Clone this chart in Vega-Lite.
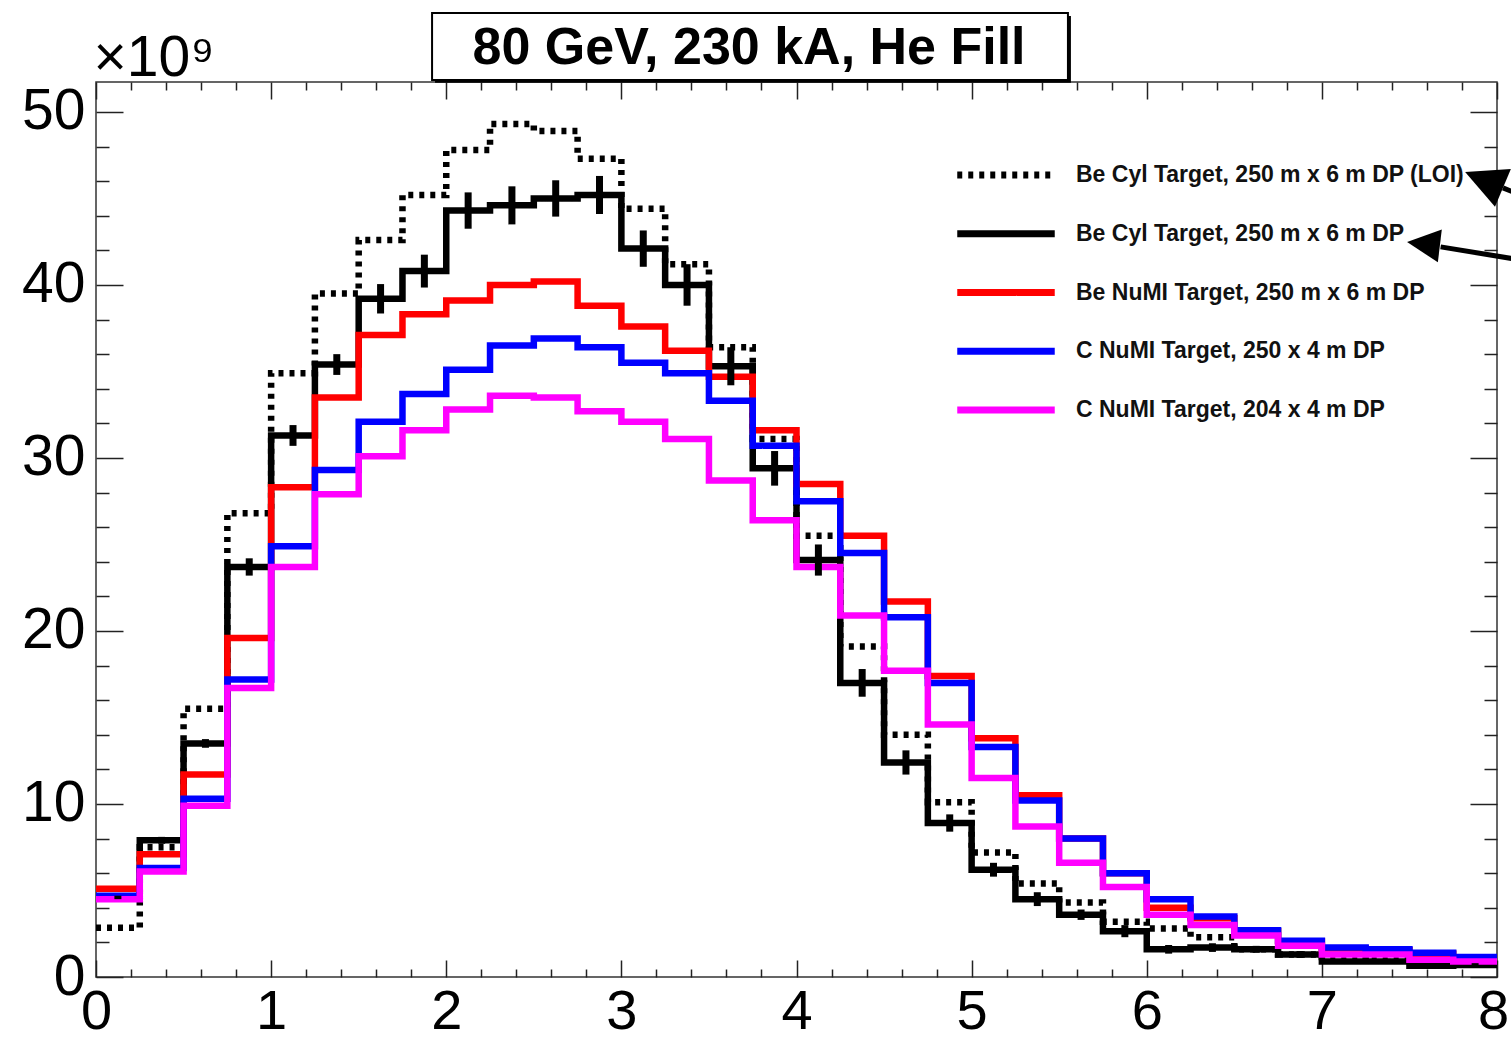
{
  "$schema": "https://vega.github.io/schema/vega-lite/v6.json",
  "width": 1401,
  "height": 895,
  "autosize": {"type": "none"},
  "padding": {"left": 96, "top": 82, "right": 14, "bottom": 63},
  "background": "white",
  "config": {"view": {"stroke": "#333333", "strokeWidth": 1.5}, "font": "Liberation Sans"},
  "datasets": {
    "hist": [
      {"s":"Be Cyl Target, 250 m x 6 m DP (LOI)","x0":0,"x1":0.25,"v":2.85},
      {"s":"Be Cyl Target, 250 m x 6 m DP (LOI)","x0":0.25,"x1":0.5,"v":7.5},
      {"s":"Be Cyl Target, 250 m x 6 m DP (LOI)","x0":0.5,"x1":0.75,"v":15.5},
      {"s":"Be Cyl Target, 250 m x 6 m DP (LOI)","x0":0.75,"x1":1,"v":26.8},
      {"s":"Be Cyl Target, 250 m x 6 m DP (LOI)","x0":1,"x1":1.25,"v":34.9},
      {"s":"Be Cyl Target, 250 m x 6 m DP (LOI)","x0":1.25,"x1":1.5,"v":39.5},
      {"s":"Be Cyl Target, 250 m x 6 m DP (LOI)","x0":1.5,"x1":1.75,"v":42.6},
      {"s":"Be Cyl Target, 250 m x 6 m DP (LOI)","x0":1.75,"x1":2,"v":45.2},
      {"s":"Be Cyl Target, 250 m x 6 m DP (LOI)","x0":2,"x1":2.25,"v":47.8},
      {"s":"Be Cyl Target, 250 m x 6 m DP (LOI)","x0":2.25,"x1":2.5,"v":49.3},
      {"s":"Be Cyl Target, 250 m x 6 m DP (LOI)","x0":2.5,"x1":2.75,"v":48.9},
      {"s":"Be Cyl Target, 250 m x 6 m DP (LOI)","x0":2.75,"x1":3,"v":47.3},
      {"s":"Be Cyl Target, 250 m x 6 m DP (LOI)","x0":3,"x1":3.25,"v":44.4},
      {"s":"Be Cyl Target, 250 m x 6 m DP (LOI)","x0":3.25,"x1":3.5,"v":41.2},
      {"s":"Be Cyl Target, 250 m x 6 m DP (LOI)","x0":3.5,"x1":3.75,"v":36.4},
      {"s":"Be Cyl Target, 250 m x 6 m DP (LOI)","x0":3.75,"x1":4,"v":31.1},
      {"s":"Be Cyl Target, 250 m x 6 m DP (LOI)","x0":4,"x1":4.25,"v":25.5},
      {"s":"Be Cyl Target, 250 m x 6 m DP (LOI)","x0":4.25,"x1":4.5,"v":19.1},
      {"s":"Be Cyl Target, 250 m x 6 m DP (LOI)","x0":4.5,"x1":4.75,"v":14.0},
      {"s":"Be Cyl Target, 250 m x 6 m DP (LOI)","x0":4.75,"x1":5,"v":10.1},
      {"s":"Be Cyl Target, 250 m x 6 m DP (LOI)","x0":5,"x1":5.25,"v":7.2},
      {"s":"Be Cyl Target, 250 m x 6 m DP (LOI)","x0":5.25,"x1":5.5,"v":5.4},
      {"s":"Be Cyl Target, 250 m x 6 m DP (LOI)","x0":5.5,"x1":5.75,"v":4.3},
      {"s":"Be Cyl Target, 250 m x 6 m DP (LOI)","x0":5.75,"x1":6,"v":3.2},
      {"s":"Be Cyl Target, 250 m x 6 m DP (LOI)","x0":6,"x1":6.25,"v":2.8},
      {"s":"Be Cyl Target, 250 m x 6 m DP (LOI)","x0":6.25,"x1":6.5,"v":2.3},
      {"s":"Be Cyl Target, 250 m x 6 m DP (LOI)","x0":6.5,"x1":6.75,"v":1.6},
      {"s":"Be Cyl Target, 250 m x 6 m DP (LOI)","x0":6.75,"x1":7,"v":1.3},
      {"s":"Be Cyl Target, 250 m x 6 m DP (LOI)","x0":7,"x1":7.25,"v":1.15},
      {"s":"Be Cyl Target, 250 m x 6 m DP (LOI)","x0":7.25,"x1":7.5,"v":1.0},
      {"s":"Be Cyl Target, 250 m x 6 m DP (LOI)","x0":7.5,"x1":7.75,"v":0.85},
      {"s":"Be Cyl Target, 250 m x 6 m DP (LOI)","x0":7.75,"x1":8,"v":0.75},
      {"s":"Be Cyl Target, 250 m x 6 m DP","x0":0,"x1":0.25,"v":4.6},
      {"s":"Be Cyl Target, 250 m x 6 m DP","x0":0.25,"x1":0.5,"v":7.9},
      {"s":"Be Cyl Target, 250 m x 6 m DP","x0":0.5,"x1":0.75,"v":13.5},
      {"s":"Be Cyl Target, 250 m x 6 m DP","x0":0.75,"x1":1,"v":23.7},
      {"s":"Be Cyl Target, 250 m x 6 m DP","x0":1,"x1":1.25,"v":31.3},
      {"s":"Be Cyl Target, 250 m x 6 m DP","x0":1.25,"x1":1.5,"v":35.4},
      {"s":"Be Cyl Target, 250 m x 6 m DP","x0":1.5,"x1":1.75,"v":39.2},
      {"s":"Be Cyl Target, 250 m x 6 m DP","x0":1.75,"x1":2,"v":40.8},
      {"s":"Be Cyl Target, 250 m x 6 m DP","x0":2,"x1":2.25,"v":44.3},
      {"s":"Be Cyl Target, 250 m x 6 m DP","x0":2.25,"x1":2.5,"v":44.6},
      {"s":"Be Cyl Target, 250 m x 6 m DP","x0":2.5,"x1":2.75,"v":45.0},
      {"s":"Be Cyl Target, 250 m x 6 m DP","x0":2.75,"x1":3,"v":45.2},
      {"s":"Be Cyl Target, 250 m x 6 m DP","x0":3,"x1":3.25,"v":42.1},
      {"s":"Be Cyl Target, 250 m x 6 m DP","x0":3.25,"x1":3.5,"v":40.0},
      {"s":"Be Cyl Target, 250 m x 6 m DP","x0":3.5,"x1":3.75,"v":35.3},
      {"s":"Be Cyl Target, 250 m x 6 m DP","x0":3.75,"x1":4,"v":29.4},
      {"s":"Be Cyl Target, 250 m x 6 m DP","x0":4,"x1":4.25,"v":24.1},
      {"s":"Be Cyl Target, 250 m x 6 m DP","x0":4.25,"x1":4.5,"v":17.0},
      {"s":"Be Cyl Target, 250 m x 6 m DP","x0":4.5,"x1":4.75,"v":12.4},
      {"s":"Be Cyl Target, 250 m x 6 m DP","x0":4.75,"x1":5,"v":8.9},
      {"s":"Be Cyl Target, 250 m x 6 m DP","x0":5,"x1":5.25,"v":6.2},
      {"s":"Be Cyl Target, 250 m x 6 m DP","x0":5.25,"x1":5.5,"v":4.5},
      {"s":"Be Cyl Target, 250 m x 6 m DP","x0":5.5,"x1":5.75,"v":3.6},
      {"s":"Be Cyl Target, 250 m x 6 m DP","x0":5.75,"x1":6,"v":2.65},
      {"s":"Be Cyl Target, 250 m x 6 m DP","x0":6,"x1":6.25,"v":1.6},
      {"s":"Be Cyl Target, 250 m x 6 m DP","x0":6.25,"x1":6.5,"v":1.7},
      {"s":"Be Cyl Target, 250 m x 6 m DP","x0":6.5,"x1":6.75,"v":1.6},
      {"s":"Be Cyl Target, 250 m x 6 m DP","x0":6.75,"x1":7,"v":1.3},
      {"s":"Be Cyl Target, 250 m x 6 m DP","x0":7,"x1":7.25,"v":0.9},
      {"s":"Be Cyl Target, 250 m x 6 m DP","x0":7.25,"x1":7.5,"v":0.9},
      {"s":"Be Cyl Target, 250 m x 6 m DP","x0":7.5,"x1":7.75,"v":0.65},
      {"s":"Be Cyl Target, 250 m x 6 m DP","x0":7.75,"x1":8,"v":0.7},
      {"s":"Be NuMI Target, 250 m x 6 m DP","x0":0,"x1":0.25,"v":5.1},
      {"s":"Be NuMI Target, 250 m x 6 m DP","x0":0.25,"x1":0.5,"v":7.1},
      {"s":"Be NuMI Target, 250 m x 6 m DP","x0":0.5,"x1":0.75,"v":11.7},
      {"s":"Be NuMI Target, 250 m x 6 m DP","x0":0.75,"x1":1,"v":19.6},
      {"s":"Be NuMI Target, 250 m x 6 m DP","x0":1,"x1":1.25,"v":28.3},
      {"s":"Be NuMI Target, 250 m x 6 m DP","x0":1.25,"x1":1.5,"v":33.5},
      {"s":"Be NuMI Target, 250 m x 6 m DP","x0":1.5,"x1":1.75,"v":37.1},
      {"s":"Be NuMI Target, 250 m x 6 m DP","x0":1.75,"x1":2,"v":38.3},
      {"s":"Be NuMI Target, 250 m x 6 m DP","x0":2,"x1":2.25,"v":39.1},
      {"s":"Be NuMI Target, 250 m x 6 m DP","x0":2.25,"x1":2.5,"v":40.0},
      {"s":"Be NuMI Target, 250 m x 6 m DP","x0":2.5,"x1":2.75,"v":40.2},
      {"s":"Be NuMI Target, 250 m x 6 m DP","x0":2.75,"x1":3,"v":38.8},
      {"s":"Be NuMI Target, 250 m x 6 m DP","x0":3,"x1":3.25,"v":37.6},
      {"s":"Be NuMI Target, 250 m x 6 m DP","x0":3.25,"x1":3.5,"v":36.2},
      {"s":"Be NuMI Target, 250 m x 6 m DP","x0":3.5,"x1":3.75,"v":34.7},
      {"s":"Be NuMI Target, 250 m x 6 m DP","x0":3.75,"x1":4,"v":31.6},
      {"s":"Be NuMI Target, 250 m x 6 m DP","x0":4,"x1":4.25,"v":28.5},
      {"s":"Be NuMI Target, 250 m x 6 m DP","x0":4.25,"x1":4.5,"v":25.5},
      {"s":"Be NuMI Target, 250 m x 6 m DP","x0":4.5,"x1":4.75,"v":21.7},
      {"s":"Be NuMI Target, 250 m x 6 m DP","x0":4.75,"x1":5,"v":17.4},
      {"s":"Be NuMI Target, 250 m x 6 m DP","x0":5,"x1":5.25,"v":13.8},
      {"s":"Be NuMI Target, 250 m x 6 m DP","x0":5.25,"x1":5.5,"v":10.5},
      {"s":"Be NuMI Target, 250 m x 6 m DP","x0":5.5,"x1":5.75,"v":8.0},
      {"s":"Be NuMI Target, 250 m x 6 m DP","x0":5.75,"x1":6,"v":6.0},
      {"s":"Be NuMI Target, 250 m x 6 m DP","x0":6,"x1":6.25,"v":4.0},
      {"s":"Be NuMI Target, 250 m x 6 m DP","x0":6.25,"x1":6.5,"v":3.4},
      {"s":"Be NuMI Target, 250 m x 6 m DP","x0":6.5,"x1":6.75,"v":2.65},
      {"s":"Be NuMI Target, 250 m x 6 m DP","x0":6.75,"x1":7,"v":2.05},
      {"s":"Be NuMI Target, 250 m x 6 m DP","x0":7,"x1":7.25,"v":1.65},
      {"s":"Be NuMI Target, 250 m x 6 m DP","x0":7.25,"x1":7.5,"v":1.55},
      {"s":"Be NuMI Target, 250 m x 6 m DP","x0":7.5,"x1":7.75,"v":1.35},
      {"s":"Be NuMI Target, 250 m x 6 m DP","x0":7.75,"x1":8,"v":1.1},
      {"s":"C NuMI Target, 250 x 4 m DP","x0":0,"x1":0.25,"v":4.7},
      {"s":"C NuMI Target, 250 x 4 m DP","x0":0.25,"x1":0.5,"v":6.3},
      {"s":"C NuMI Target, 250 x 4 m DP","x0":0.5,"x1":0.75,"v":10.3},
      {"s":"C NuMI Target, 250 x 4 m DP","x0":0.75,"x1":1,"v":17.2},
      {"s":"C NuMI Target, 250 x 4 m DP","x0":1,"x1":1.25,"v":24.9},
      {"s":"C NuMI Target, 250 x 4 m DP","x0":1.25,"x1":1.5,"v":29.3},
      {"s":"C NuMI Target, 250 x 4 m DP","x0":1.5,"x1":1.75,"v":32.1},
      {"s":"C NuMI Target, 250 x 4 m DP","x0":1.75,"x1":2,"v":33.7},
      {"s":"C NuMI Target, 250 x 4 m DP","x0":2,"x1":2.25,"v":35.1},
      {"s":"C NuMI Target, 250 x 4 m DP","x0":2.25,"x1":2.5,"v":36.5},
      {"s":"C NuMI Target, 250 x 4 m DP","x0":2.5,"x1":2.75,"v":36.9},
      {"s":"C NuMI Target, 250 x 4 m DP","x0":2.75,"x1":3,"v":36.4},
      {"s":"C NuMI Target, 250 x 4 m DP","x0":3,"x1":3.25,"v":35.5},
      {"s":"C NuMI Target, 250 x 4 m DP","x0":3.25,"x1":3.5,"v":34.9},
      {"s":"C NuMI Target, 250 x 4 m DP","x0":3.5,"x1":3.75,"v":33.3},
      {"s":"C NuMI Target, 250 x 4 m DP","x0":3.75,"x1":4,"v":30.7},
      {"s":"C NuMI Target, 250 x 4 m DP","x0":4,"x1":4.25,"v":27.5},
      {"s":"C NuMI Target, 250 x 4 m DP","x0":4.25,"x1":4.5,"v":24.5},
      {"s":"C NuMI Target, 250 x 4 m DP","x0":4.5,"x1":4.75,"v":20.8},
      {"s":"C NuMI Target, 250 x 4 m DP","x0":4.75,"x1":5,"v":17.0},
      {"s":"C NuMI Target, 250 x 4 m DP","x0":5,"x1":5.25,"v":13.3},
      {"s":"C NuMI Target, 250 x 4 m DP","x0":5.25,"x1":5.5,"v":10.2},
      {"s":"C NuMI Target, 250 x 4 m DP","x0":5.5,"x1":5.75,"v":8.0},
      {"s":"C NuMI Target, 250 x 4 m DP","x0":5.75,"x1":6,"v":6.0},
      {"s":"C NuMI Target, 250 x 4 m DP","x0":6,"x1":6.25,"v":4.5},
      {"s":"C NuMI Target, 250 x 4 m DP","x0":6.25,"x1":6.5,"v":3.5},
      {"s":"C NuMI Target, 250 x 4 m DP","x0":6.5,"x1":6.75,"v":2.7},
      {"s":"C NuMI Target, 250 x 4 m DP","x0":6.75,"x1":7,"v":2.1},
      {"s":"C NuMI Target, 250 x 4 m DP","x0":7,"x1":7.25,"v":1.7},
      {"s":"C NuMI Target, 250 x 4 m DP","x0":7.25,"x1":7.5,"v":1.6},
      {"s":"C NuMI Target, 250 x 4 m DP","x0":7.5,"x1":7.75,"v":1.4},
      {"s":"C NuMI Target, 250 x 4 m DP","x0":7.75,"x1":8,"v":1.15},
      {"s":"C NuMI Target, 204 x 4 m DP","x0":0,"x1":0.25,"v":4.5},
      {"s":"C NuMI Target, 204 x 4 m DP","x0":0.25,"x1":0.5,"v":6.1},
      {"s":"C NuMI Target, 204 x 4 m DP","x0":0.5,"x1":0.75,"v":9.9},
      {"s":"C NuMI Target, 204 x 4 m DP","x0":0.75,"x1":1,"v":16.7},
      {"s":"C NuMI Target, 204 x 4 m DP","x0":1,"x1":1.25,"v":23.7},
      {"s":"C NuMI Target, 204 x 4 m DP","x0":1.25,"x1":1.5,"v":27.9},
      {"s":"C NuMI Target, 204 x 4 m DP","x0":1.5,"x1":1.75,"v":30.1},
      {"s":"C NuMI Target, 204 x 4 m DP","x0":1.75,"x1":2,"v":31.6},
      {"s":"C NuMI Target, 204 x 4 m DP","x0":2,"x1":2.25,"v":32.8},
      {"s":"C NuMI Target, 204 x 4 m DP","x0":2.25,"x1":2.5,"v":33.6},
      {"s":"C NuMI Target, 204 x 4 m DP","x0":2.5,"x1":2.75,"v":33.5},
      {"s":"C NuMI Target, 204 x 4 m DP","x0":2.75,"x1":3,"v":32.7},
      {"s":"C NuMI Target, 204 x 4 m DP","x0":3,"x1":3.25,"v":32.1},
      {"s":"C NuMI Target, 204 x 4 m DP","x0":3.25,"x1":3.5,"v":31.1},
      {"s":"C NuMI Target, 204 x 4 m DP","x0":3.5,"x1":3.75,"v":28.7},
      {"s":"C NuMI Target, 204 x 4 m DP","x0":3.75,"x1":4,"v":26.4},
      {"s":"C NuMI Target, 204 x 4 m DP","x0":4,"x1":4.25,"v":23.7},
      {"s":"C NuMI Target, 204 x 4 m DP","x0":4.25,"x1":4.5,"v":20.9},
      {"s":"C NuMI Target, 204 x 4 m DP","x0":4.5,"x1":4.75,"v":17.7},
      {"s":"C NuMI Target, 204 x 4 m DP","x0":4.75,"x1":5,"v":14.6},
      {"s":"C NuMI Target, 204 x 4 m DP","x0":5,"x1":5.25,"v":11.5},
      {"s":"C NuMI Target, 204 x 4 m DP","x0":5.25,"x1":5.5,"v":8.7},
      {"s":"C NuMI Target, 204 x 4 m DP","x0":5.5,"x1":5.75,"v":6.6},
      {"s":"C NuMI Target, 204 x 4 m DP","x0":5.75,"x1":6,"v":5.2},
      {"s":"C NuMI Target, 204 x 4 m DP","x0":6,"x1":6.25,"v":3.6},
      {"s":"C NuMI Target, 204 x 4 m DP","x0":6.25,"x1":6.5,"v":3.0},
      {"s":"C NuMI Target, 204 x 4 m DP","x0":6.5,"x1":6.75,"v":2.4},
      {"s":"C NuMI Target, 204 x 4 m DP","x0":6.75,"x1":7,"v":1.8},
      {"s":"C NuMI Target, 204 x 4 m DP","x0":7,"x1":7.25,"v":1.3},
      {"s":"C NuMI Target, 204 x 4 m DP","x0":7.25,"x1":7.5,"v":1.3},
      {"s":"C NuMI Target, 204 x 4 m DP","x0":7.5,"x1":7.75,"v":1.0},
      {"s":"C NuMI Target, 204 x 4 m DP","x0":7.75,"x1":8,"v":0.9}
    ],
    "errs": [
      {"x":0.125,"lo":4.5,"hi":4.7},{"x":0.375,"lo":7.7,"hi":8.1},{"x":0.625,"lo":13.25,"hi":13.75},{"x":0.875,"lo":23.2,"hi":24.2},
      {"x":1.125,"lo":30.7,"hi":31.9},{"x":1.375,"lo":34.8,"hi":36.0},{"x":1.625,"lo":38.35,"hi":40.05},{"x":1.875,"lo":39.85,"hi":41.75},
      {"x":2.125,"lo":43.25,"hi":45.35},{"x":2.375,"lo":43.5,"hi":45.7},{"x":2.625,"lo":43.95,"hi":46.05},{"x":2.875,"lo":44.1,"hi":46.3},
      {"x":3.125,"lo":41.05,"hi":43.15},{"x":3.375,"lo":38.8,"hi":41.2},{"x":3.625,"lo":34.2,"hi":36.4},{"x":3.875,"lo":28.4,"hi":30.4},
      {"x":4.125,"lo":23.2,"hi":25.0},{"x":4.375,"lo":16.2,"hi":17.8},{"x":4.625,"lo":11.7,"hi":13.1},{"x":4.875,"lo":8.4,"hi":9.4},
      {"x":5.125,"lo":5.8,"hi":6.6},{"x":5.375,"lo":4.1,"hi":4.9},{"x":5.625,"lo":3.3,"hi":3.9},{"x":5.875,"lo":2.3,"hi":3.0},
      {"x":6.125,"lo":1.35,"hi":1.85},{"x":6.375,"lo":1.45,"hi":1.95},{"x":6.625,"lo":1.4,"hi":1.8},{"x":6.875,"lo":1.1,"hi":1.5},
      {"x":7.125,"lo":0.75,"hi":1.05},{"x":7.375,"lo":0.75,"hi":1.05},{"x":7.625,"lo":0.55,"hi":0.75},{"x":7.875,"lo":0.6,"hi":0.8}
    ]
  },
  "resolve": {"axis": {"x": "independent", "y": "independent"}},
  "layer": [
    {
      "data": {"values": [{}]},
      "mark": {"type": "rect", "fill": "black"},
      "encoding": {
        "x": {"datum": 1.936, "type": "quantitative", "axis": null},
        "x2": {"datum": 5.567},
        "y": {"datum": 55.55, "type": "quantitative", "axis": null},
        "y2": {"datum": 51.68}
      }
    },
    {
      "data": {"values": [{}]},
      "mark": {"type": "rect", "fill": "white", "stroke": "black", "strokeWidth": 2},
      "encoding": {
        "x": {"datum": 1.919, "type": "quantitative", "axis": null},
        "x2": {"datum": 5.55},
        "y": {"datum": 55.72, "type": "quantitative", "axis": null},
        "y2": {"datum": 51.85}
      }
    },
    {
      "data": {"values": [{}]},
      "mark": {"type": "text", "text": "80 GeV, 230 kA, He Fill", "font": "Liberation Sans", "fontSize": 52, "fontWeight": "bold", "color": "black", "align": "center", "baseline": "alphabetic"},
      "encoding": {
        "x": {"datum": 3.729, "type": "quantitative", "axis": null},
        "y": {"datum": 52.77, "type": "quantitative", "axis": null}
      }
    },
    {
      "data": {"name": "hist"},
      "transform": [{"fold": ["x0", "x1"], "as": ["edge", "x"]}],
      "mark": {"type": "line", "strokeWidth": 6.5, "strokeCap": "butt", "strokeJoin": "miter"},
      "encoding": {
        "x": {"field": "x", "type": "quantitative",
          "scale": {"domain": [0, 8], "nice": false, "zero": false},
          "axis": {"orient": "bottom", "values": [0,0.2,0.4,0.6,0.8,1,1.2,1.4,1.6,1.8,2,2.2,2.4,2.6,2.8,3,3.2,3.4,3.6,3.8,4,4.2,4.4,4.6,4.8,5,5.2,5.4,5.6,5.8,6,6.2,6.4,6.6,6.8,7,7.2,7.4,7.6,7.8,8],
            "domain": false, "grid": false, "tickColor": "#222222", "tickWidth": 1.5,
            "tickSize": {"expr": "abs(datum.value - round(datum.value)) < 0.01 ? -17 : -8"},
            "labelExpr": "abs(datum.value - round(datum.value)) < 0.01 ? format(datum.value, 'd') : ''",
            "labelOffset": {"expr": "datum.value === 8 ? -4 : 0"},
            "labelFont": "Liberation Sans", "labelFontSize": 56, "labelColor": "black", "labelPadding": 24,
            "labelOverlap": false, "labelFlush": false, "labelBaseline": "top", "title": null}},
        "y": {"field": "v", "type": "quantitative",
          "scale": {"domain": [0, 51.73], "nice": false, "zero": false},
          "axis": {"orient": "left", "values": [0,2,4,6,8,10,12,14,16,18,20,22,24,26,28,30,32,34,36,38,40,42,44,46,48,50],
            "domain": false, "grid": false, "tickColor": "#222222", "tickWidth": 1.5,
            "tickSize": {"expr": "datum.value % 10 === 0 ? -27 : -13"},
            "labelExpr": "datum.value % 10 === 0 ? format(datum.value, 'd') : ''",
            "labelFont": "Liberation Sans", "labelFontSize": 57, "labelColor": "black", "labelPadding": 38,
            "labelOverlap": false, "labelFlush": false, "labelAlign": "right", "labelBaseline": "middle",
            "title": "×10⁹", "titleAngle": 0, "titleAlign": "left", "titleBaseline": "alphabetic",
            "titleX": -3, "titleY": -7, "titleFont": "Liberation Sans", "titleFontSize": 57, "titleFontWeight": "normal", "titleColor": "black"}},
        "color": {"field": "s", "type": "nominal",
          "scale": {"domain": ["Be Cyl Target, 250 m x 6 m DP (LOI)", "Be Cyl Target, 250 m x 6 m DP", "Be NuMI Target, 250 m x 6 m DP", "C NuMI Target, 250 x 4 m DP", "C NuMI Target, 204 x 4 m DP"],
            "range": ["#000000", "#000000", "#ff0000", "#0000ff", "#ff00ff"]},
          "legend": {"title": null, "orient": "none", "legendX": 887, "legendY": 70, "padding": 0,
            "symbolType": "M-2.5,0H2.5", "symbolSize": 1521, "symbolStrokeWidth": 7, "rowPadding": 21.75,
            "labelFont": "Liberation Sans", "labelFontSize": 23, "labelFontWeight": "bold", "labelColor": "#111111",
            "labelOffset": 47, "labelLimit": 700}},
        "strokeDash": {"field": "s", "type": "nominal",
          "scale": {"domain": ["Be Cyl Target, 250 m x 6 m DP (LOI)", "Be Cyl Target, 250 m x 6 m DP", "Be NuMI Target, 250 m x 6 m DP", "C NuMI Target, 250 x 4 m DP", "C NuMI Target, 204 x 4 m DP"],
            "range": [[5, 6], [1, 0], [1, 0], [1, 0], [1, 0]]},
          "legend": {"title": null, "orient": "none", "legendX": 887, "legendY": 70, "padding": 0,
            "symbolType": "M-2.5,0H2.5", "symbolSize": 1521, "symbolStrokeWidth": 7, "rowPadding": 21.75,
            "labelFont": "Liberation Sans", "labelFontSize": 23, "labelFontWeight": "bold", "labelColor": "#111111",
            "labelOffset": 47, "labelLimit": 700}},
        "order": [{"field": "x", "type": "quantitative"}, {"field": "edge", "type": "nominal", "sort": "descending"}]
      }
    },
    {
      "data": {"name": "errs"},
      "mark": {"type": "rule", "color": "black", "strokeWidth": 7},
      "encoding": {
        "x": {"field": "x", "type": "quantitative",
          "axis": {"orient": "top", "values": [0,0.2,0.4,0.6,0.8,1,1.2,1.4,1.6,1.8,2,2.2,2.4,2.6,2.8,3,3.2,3.4,3.6,3.8,4,4.2,4.4,4.6,4.8,5,5.2,5.4,5.6,5.8,6,6.2,6.4,6.6,6.8,7,7.2,7.4,7.6,7.8,8],
            "labels": false, "domain": false, "grid": false, "tickColor": "#222222", "tickWidth": 1.5,
            "tickSize": {"expr": "abs(datum.value - round(datum.value)) < 0.01 ? -17 : -8"}, "title": null}},
        "y": {"field": "lo", "type": "quantitative",
          "axis": {"orient": "right", "values": [0,2,4,6,8,10,12,14,16,18,20,22,24,26,28,30,32,34,36,38,40,42,44,46,48,50],
            "labels": false, "domain": false, "grid": false, "tickColor": "#222222", "tickWidth": 1.5,
            "tickSize": {"expr": "datum.value % 10 === 0 ? -27 : -13"}, "title": null}},
        "y2": {"field": "hi"}
      }
    },
    {
      "data": {"values": [{}]},
      "mark": {"type": "rule", "color": "black", "strokeWidth": 5},
      "encoding": {
        "x": {"datum": 8.034, "type": "quantitative", "axis": null},
        "x2": {"datum": 8.373},
        "y": {"datum": 45.61, "type": "quantitative", "axis": null},
        "y2": {"datum": 44.22}
      }
    },
    {
      "data": {"values": [{}]},
      "mark": {"type": "rule", "color": "black", "strokeWidth": 5},
      "encoding": {
        "x": {"datum": 7.678, "type": "quantitative", "axis": null},
        "x2": {"datum": 8.132},
        "y": {"datum": 42.2, "type": "quantitative", "axis": null},
        "y2": {"datum": 41.45}
      }
    },
    {
      "data": {"values": [{}]},
      "mark": {"type": "point", "shape": "M-1,0L1,-1L1,1Z", "filled": true, "color": "black", "opacity": 1, "size": 1681, "angle": 22.8},
      "encoding": {
        "x": {"datum": 7.926, "type": "quantitative", "axis": null},
        "y": {"datum": 46.07, "type": "quantitative", "axis": null}
      }
    },
    {
      "data": {"values": [{}]},
      "mark": {"type": "point", "shape": "M-1,0L1,-1L1,1Z", "filled": true, "color": "black", "opacity": 1, "size": 1089, "angle": 6.9},
      "encoding": {
        "x": {"datum": 7.58, "type": "quantitative", "axis": null},
        "y": {"datum": 42.37, "type": "quantitative", "axis": null}
      }
    }
  ]
}
